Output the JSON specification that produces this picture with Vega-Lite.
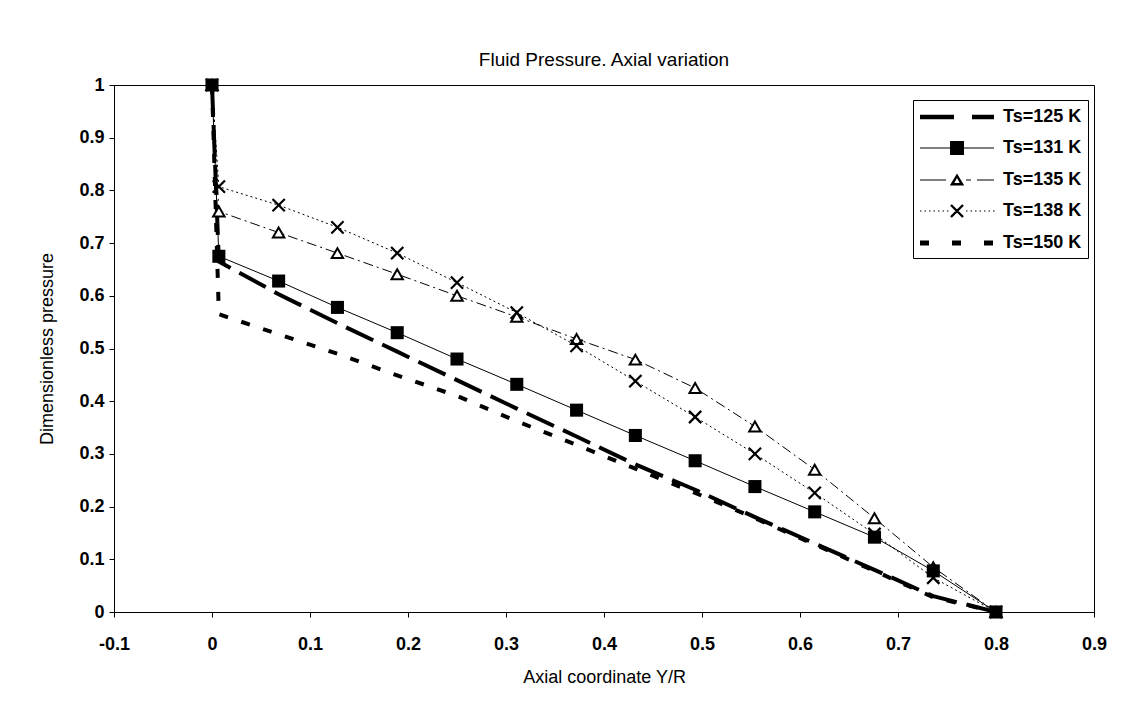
{
  "$schema": "https://vega.github.io/schema/vega-lite/v6.json",
  "autosize": "none",
  "width": 980,
  "height": 527,
  "padding": {"left": 114, "top": 85, "right": 39, "bottom": 95},
  "background": "white",
  "title": {"text": "Fluid Pressure. Axial variation", "font": "Liberation Sans", "fontSize": 19, "fontWeight": "normal", "color": "black", "anchor": "middle", "offset": 4},
  "config": {
    "view": {"stroke": "black", "strokeWidth": 1},
    "axis": {"labelFont": "Liberation Sans", "labelFontSize": 18, "labelFontWeight": "bold", "labelColor": "black", "tickColor": "black", "domainColor": "black", "tickSize": 5, "grid": false, "titleFont": "Liberation Sans", "titleFontSize": 18, "titleFontWeight": "normal", "titleColor": "black"}
  },
  "data": {"values": [
    {"series": "Ts=125 K", "x": 0, "p": 1},
    {"series": "Ts=125 K", "x": 0.007, "p": 0.665},
    {"series": "Ts=125 K", "x": 0.068, "p": 0.603},
    {"series": "Ts=125 K", "x": 0.128, "p": 0.548},
    {"series": "Ts=125 K", "x": 0.189, "p": 0.494},
    {"series": "Ts=125 K", "x": 0.25, "p": 0.44},
    {"series": "Ts=125 K", "x": 0.311, "p": 0.386},
    {"series": "Ts=125 K", "x": 0.372, "p": 0.333},
    {"series": "Ts=125 K", "x": 0.432, "p": 0.28},
    {"series": "Ts=125 K", "x": 0.493, "p": 0.232},
    {"series": "Ts=125 K", "x": 0.554, "p": 0.18},
    {"series": "Ts=125 K", "x": 0.615, "p": 0.13},
    {"series": "Ts=125 K", "x": 0.676, "p": 0.08},
    {"series": "Ts=125 K", "x": 0.736, "p": 0.03},
    {"series": "Ts=125 K", "x": 0.8, "p": 0},
    {"series": "Ts=131 K", "x": 0, "p": 1},
    {"series": "Ts=131 K", "x": 0.007, "p": 0.675},
    {"series": "Ts=131 K", "x": 0.068, "p": 0.628},
    {"series": "Ts=131 K", "x": 0.128, "p": 0.578},
    {"series": "Ts=131 K", "x": 0.189, "p": 0.53},
    {"series": "Ts=131 K", "x": 0.25, "p": 0.48},
    {"series": "Ts=131 K", "x": 0.311, "p": 0.432},
    {"series": "Ts=131 K", "x": 0.372, "p": 0.383},
    {"series": "Ts=131 K", "x": 0.432, "p": 0.335},
    {"series": "Ts=131 K", "x": 0.493, "p": 0.287},
    {"series": "Ts=131 K", "x": 0.554, "p": 0.238},
    {"series": "Ts=131 K", "x": 0.615, "p": 0.19},
    {"series": "Ts=131 K", "x": 0.676, "p": 0.142},
    {"series": "Ts=131 K", "x": 0.736, "p": 0.078},
    {"series": "Ts=131 K", "x": 0.8, "p": 0},
    {"series": "Ts=135 K", "x": 0, "p": 1},
    {"series": "Ts=135 K", "x": 0.007, "p": 0.76},
    {"series": "Ts=135 K", "x": 0.068, "p": 0.72},
    {"series": "Ts=135 K", "x": 0.128, "p": 0.681},
    {"series": "Ts=135 K", "x": 0.189, "p": 0.641},
    {"series": "Ts=135 K", "x": 0.25, "p": 0.6},
    {"series": "Ts=135 K", "x": 0.311, "p": 0.56},
    {"series": "Ts=135 K", "x": 0.372, "p": 0.518},
    {"series": "Ts=135 K", "x": 0.432, "p": 0.479},
    {"series": "Ts=135 K", "x": 0.493, "p": 0.425},
    {"series": "Ts=135 K", "x": 0.554, "p": 0.352},
    {"series": "Ts=135 K", "x": 0.615, "p": 0.27},
    {"series": "Ts=135 K", "x": 0.676, "p": 0.178},
    {"series": "Ts=135 K", "x": 0.736, "p": 0.085},
    {"series": "Ts=135 K", "x": 0.8, "p": 0},
    {"series": "Ts=138 K", "x": 0, "p": 1},
    {"series": "Ts=138 K", "x": 0.007, "p": 0.807},
    {"series": "Ts=138 K", "x": 0.068, "p": 0.772},
    {"series": "Ts=138 K", "x": 0.128, "p": 0.73},
    {"series": "Ts=138 K", "x": 0.189, "p": 0.681},
    {"series": "Ts=138 K", "x": 0.25, "p": 0.625},
    {"series": "Ts=138 K", "x": 0.311, "p": 0.568},
    {"series": "Ts=138 K", "x": 0.372, "p": 0.505},
    {"series": "Ts=138 K", "x": 0.432, "p": 0.438},
    {"series": "Ts=138 K", "x": 0.493, "p": 0.37},
    {"series": "Ts=138 K", "x": 0.554, "p": 0.3},
    {"series": "Ts=138 K", "x": 0.615, "p": 0.226},
    {"series": "Ts=138 K", "x": 0.676, "p": 0.148},
    {"series": "Ts=138 K", "x": 0.736, "p": 0.065},
    {"series": "Ts=138 K", "x": 0.8, "p": 0},
    {"series": "Ts=150 K", "x": 0, "p": 1},
    {"series": "Ts=150 K", "x": 0.007, "p": 0.565},
    {"series": "Ts=150 K", "x": 0.068, "p": 0.527},
    {"series": "Ts=150 K", "x": 0.128, "p": 0.49},
    {"series": "Ts=150 K", "x": 0.189, "p": 0.449},
    {"series": "Ts=150 K", "x": 0.25, "p": 0.41},
    {"series": "Ts=150 K", "x": 0.311, "p": 0.362},
    {"series": "Ts=150 K", "x": 0.372, "p": 0.317},
    {"series": "Ts=150 K", "x": 0.432, "p": 0.272},
    {"series": "Ts=150 K", "x": 0.493, "p": 0.226},
    {"series": "Ts=150 K", "x": 0.554, "p": 0.178},
    {"series": "Ts=150 K", "x": 0.615, "p": 0.128},
    {"series": "Ts=150 K", "x": 0.676, "p": 0.078},
    {"series": "Ts=150 K", "x": 0.736, "p": 0.028},
    {"series": "Ts=150 K", "x": 0.8, "p": 0}
  ]},
  "encoding": {
    "x": {"field": "x", "type": "quantitative", "scale": {"domain": [-0.1, 0.9], "nice": false, "zero": false},
      "axis": {"title": "Axial coordinate Y/R", "values": [-0.1, 0, 0.1, 0.2, 0.3, 0.4, 0.5, 0.6, 0.7, 0.8, 0.9], "labelExpr": "'' + round(datum.value * 10) / 10", "labelPadding": 18, "titlePadding": 15, "labelFlush": false}},
    "y": {"field": "p", "type": "quantitative", "scale": {"domain": [0, 1], "nice": false},
      "axis": {"title": "Dimensionless pressure", "values": [0, 0.1, 0.2, 0.3, 0.4, 0.5, 0.6, 0.7, 0.8, 0.9, 1], "labelExpr": "'' + round(datum.value * 10) / 10", "labelPadding": 5, "titlePadding": 22}}
  },
  "layer": [
    {
      "transform": [{"filter": {"field": "series", "equal": "Ts=125 K"}}],
      "mark": {"type": "line", "color": "black", "strokeWidth": 4, "strokeCap": "butt", "strokeDash": [30, 10]}
    },
    {
      "transform": [{"filter": {"field": "series", "equal": "Ts=131 K"}}],
      "mark": {"type": "line", "color": "black", "strokeWidth": 1}
    },
    {
      "transform": [{"filter": {"field": "series", "equal": "Ts=135 K"}}],
      "mark": {"type": "line", "color": "black", "strokeWidth": 1, "strokeDash": [10, 4, 2, 4]}
    },
    {
      "transform": [{"filter": {"field": "series", "equal": "Ts=138 K"}}],
      "mark": {"type": "line", "color": "black", "strokeWidth": 1, "strokeDash": [2, 3]}
    },
    {
      "transform": [{"filter": {"field": "series", "equal": "Ts=150 K"}}],
      "mark": {"type": "line", "color": "black", "strokeWidth": 4, "strokeCap": "butt", "strokeDash": [9, 14]}
    },
    {
      "transform": [{"filter": {"field": "series", "equal": "Ts=135 K"}}],
      "mark": {"type": "point", "shape": "triangle-up", "filled": true, "fill": "white", "stroke": "black", "strokeWidth": 2, "size": 130, "opacity": 1}
    },
    {
      "transform": [{"filter": {"field": "series", "equal": "Ts=138 K"}}],
      "mark": {"type": "point", "shape": "M-1,-1L1,1M-1,1L1,-1", "filled": false, "stroke": "black", "strokeWidth": 2.2, "size": 150, "opacity": 1}
    },
    {
      "transform": [{"filter": {"field": "series", "equal": "Ts=131 K"}}],
      "mark": {"type": "point", "shape": "square", "filled": true, "color": "black", "size": 170, "opacity": 1}
    },
    {
      "mark": {"type": "point", "filled": true, "color": "black", "size": 0},
      "encoding": {
        "shape": {"field": "series", "type": "nominal",
          "scale": {"domain": ["Ts=125 K", "Ts=131 K", "Ts=135 K", "Ts=138 K", "Ts=150 K"],
            "range": [
              "M-1,-0.22H2.4V0.22H-1ZM4.2,-0.22H6.4V0.22H4.2Z",
              "M-1,-0.05H6.4V0.05H-1ZM2,-0.7H3.4V0.7H2Z",
              "M-1,-0.05H1.6V0.05H-1ZM3.6,-0.05H4.1V0.05H3.6ZM4.7,-0.05H6.4V0.05H4.7ZM2.7,-0.65L3.42,0.55L1.98,0.55ZM2.7,-0.2L2.43,0.3L2.97,0.3Z",
              "M-1,-0.05h0.15v0.1h-0.15ZM-0.55,-0.05h0.15v0.1h-0.15ZM-0.1,-0.05h0.15v0.1h-0.15ZM0.35,-0.05h0.15v0.1h-0.15ZM0.8,-0.05h0.15v0.1h-0.15ZM1.25,-0.05h0.15v0.1h-0.15ZM1.7,-0.05h0.15v0.1h-0.15ZM3.6,-0.05h0.15v0.1h-0.15ZM4.05,-0.05h0.15v0.1h-0.15ZM4.5,-0.05h0.15v0.1h-0.15ZM4.95,-0.05h0.15v0.1h-0.15ZM5.4,-0.05h0.15v0.1h-0.15ZM5.85,-0.05h0.15v0.1h-0.15ZM6.3,-0.05h0.15v0.1h-0.15ZM2.185,-0.685L3.385,0.515L3.215,0.685L2.015,-0.515ZM2.015,0.515L3.215,-0.685L3.385,-0.515L2.185,0.685Z",
              "M-1,-0.25H-0.1V0.25H-1ZM2.2,-0.25H3.1V0.25H2.2ZM5.4,-0.25H6.3V0.25H5.4Z"
            ]},
          "legend": {"title": null, "orient": "none", "legendX": 799, "legendY": 15, "padding": 6, "strokeColor": "black", "fillColor": "white",
            "symbolSize": 400, "symbolOpacity": 1, "labelFont": "Liberation Sans", "labelFontSize": 18, "labelFontWeight": "bold", "labelColor": "black",
            "labelOffset": 62, "rowPadding": 11, "labelLimit": 200,
            "encode": {"symbols": {"update": {"fill": {"value": "black"}, "stroke": {"value": "black"}, "strokeWidth": {"value": 1}, "opacity": {"value": 1}, "size": {"value": 400}}}}}
        }
      }
    }
  ]
}
